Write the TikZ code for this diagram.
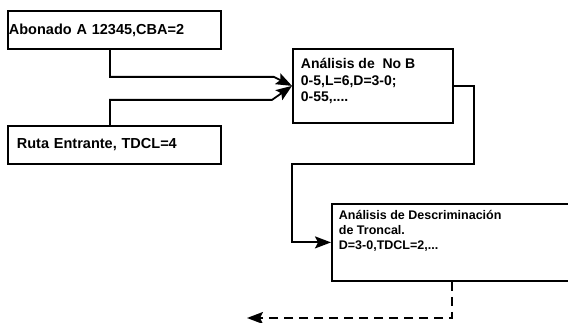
\documentclass[tikz,border=0pt]{standalone}
\usepackage{fontspec}
\setmainfont{Liberation Sans}
\usetikzlibrary{arrows.meta}

\begin{document}
\begin{tikzpicture}[x=1pt,y=-1pt,
  box/.style={draw,line width=1.8pt,anchor=north west,inner ysep=0pt,align=left,
    font=\fontsize{14.5}{16.5}\selectfont\bfseries},
  flow/.style={line width=1.8pt,-{Stealth[length=16pt,width=12pt,inset=3pt]}}]
  \useasboundingbox (0,0) rectangle (568,323);
  \node[box,inner xsep=1pt,text width=211pt,minimum height=38pt] (abonado) at (7,10)
    {Abonado A 12345,CBA=2};
  \node[box,inner xsep=9pt,text width=195pt,minimum height=38pt] (ruta) at (7,125)
    {Ruta Entrante, TDCL=4};
  \node[box,inner xsep=8pt,inner ysep=9.5pt,font=\fontsize{14}{16.5}\selectfont\bfseries] (nob) at (292,48)
    {\parbox[t][55pt][t]{144pt}{Análisis de~ No B\\0-5,L=6,D=3-0;\\0-55,....}};
  \node[box,inner xsep=7pt,inner ysep=6.5pt,font=\fontsize{12.5}{15}\selectfont\bfseries] (descr) at (331,203)
    {\parbox[t][64pt][t]{226pt}{Análisis de Descriminación\\de Troncal.\\D=3-0,TDCL=2,...}};
  \coordinate (salida) at (247,318);
  \draw[flow] ([xshift=-4.5pt]abonado.south) |- ([xshift=-18pt,yshift=9pt]nob.west) -- (nob.west);
  \draw[flow] ([xshift=-4.5pt]ruta.north) |- ([xshift=-20pt,yshift=-14pt]nob.west) -- (nob.west);
  \draw[flow] (nob.east) -- ++(20,0) -- ++(0,78) -| ([xshift=-39pt]descr.west) -- (descr.west);
  \draw[flow,dash pattern=on 9pt off 6pt] (descr.south) |- (salida);
\end{tikzpicture}
\end{document}
